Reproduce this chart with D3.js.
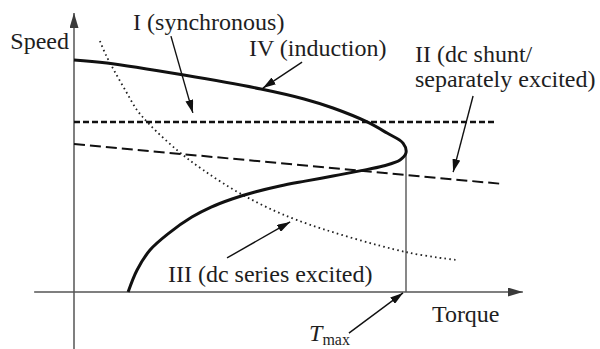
<!DOCTYPE html>
<html>
<head>
<meta charset="utf-8">
<script src="https://cdn.jsdelivr.net/npm/d3@7"></script>
<style>
  html, body { margin: 0; padding: 0; background: #fff; }
  svg { display: block; }
</style>
</head>
<body>
<svg id="chart" width="600" height="349"></svg>
<script>
// torque normalised to Tmax = 1, speed normalised to no-load induction speed = 1
const induction = [
  [0, 1.0], [0.099, 0.987], [0.331, 0.935], [0.563, 0.875], [0.693, 0.832],
  [0.78, 0.793], [0.883, 0.733], [0.943, 0.685], [0.991, 0.642], [1.0, 0.6],
  [0.982, 0.569], [0.931, 0.543], [0.861, 0.522], [0.78, 0.5], [0.696, 0.478],
  [0.62, 0.457], [0.545, 0.431], [0.476, 0.401], [0.413, 0.366], [0.355, 0.323],
  [0.286, 0.254], [0.229, 0.181], [0.19, 0.095], [0.163, 0]
];
const synchronous = [[0, 0.733], [1.274, 0.733]];
const dcShunt = [[0, 0.638], [1.289, 0.466]];
const dcSeries = [
  [0.078, 1.082], [0.096, 1.022], [0.12, 0.957], [0.154, 0.871], [0.19, 0.784],
  [0.229, 0.72], [0.31, 0.612], [0.389, 0.526], [0.509, 0.418], [0.672, 0.31],
  [1.0, 0.172], [1.154, 0.138]
];
const tMax = 1.0;
const tMaxSpeed = 0.6;

// annotation arrows: [from, to]
const arrows = [
  [[0.292, 1.103], [0.358, 0.772]],   // I
  [[0.687, 0.991], [0.569, 0.879]],   // IV
  [[1.202, 0.845], [1.142, 0.517]],   // II
  [[0.461, 0.147], [0.651, 0.302]],   // III
  [[0.828, -0.177], [0.991, -0.004]]  // Tmax
];

const labels = [
  { text: "Speed", t: -0.015, s: 1.047, anchor: "end" },
  { text: "I (synchronous)", t: 0.178, s: 1.129, anchor: "start" },
  { text: "IV (induction)", t: 0.527, s: 1.017, anchor: "start" },
  { text: "II (dc shunt/", t: 1.027, s: 0.991, anchor: "start" },
  { text: "separately excited)", t: 1.027, s: 0.884, anchor: "start" },
  { text: "III (dc series excited)", t: 0.283, s: 0.043, anchor: "start" },
  { text: "Torque", t: 1.078, s: -0.129, anchor: "start" }
];

const FONT = "'Liberation Serif', 'Times New Roman', serif";

const svg = d3.select("#chart");
const x = d3.scaleLinear().domain([0, 1]).range([74, 406]);
const y = d3.scaleLinear().domain([0, 1]).range([292, 60]);

const defs = svg.append("defs");
function marker(id, len, wid, color) {
  defs.append("marker")
    .attr("id", id)
    .attr("markerUnits", "userSpaceOnUse")
    .attr("viewBox", `0 ${-wid / 2} ${len} ${wid}`)
    .attr("refX", len).attr("refY", 0)
    .attr("markerWidth", len).attr("markerHeight", wid)
    .attr("orient", "auto")
    .append("path")
    .attr("d", `M0,${-wid / 2}L${len},0L0,${wid / 2}Z`)
    .attr("fill", color);
}
marker("axisHead", 15, 9, "#3a3a3a");
marker("noteHead", 13, 8, "#111");

// axes
svg.append("line")
  .attr("x1", x(-0.12)).attr("y1", y(0))
  .attr("x2", x(1.352)).attr("y2", y(0))
  .attr("stroke", "#555").attr("stroke-width", 1.5)
  .attr("marker-end", "url(#axisHead)");
svg.append("line")
  .attr("x1", x(0)).attr("y1", y(-0.27))
  .attr("x2", x(0)).attr("y2", y(1.203))
  .attr("stroke", "#555").attr("stroke-width", 1.5)
  .attr("marker-end", "url(#axisHead)");

// Tmax drop line
svg.append("line")
  .attr("x1", x(tMax)).attr("y1", y(0))
  .attr("x2", x(tMax)).attr("y2", y(tMaxSpeed))
  .attr("stroke", "#555").attr("stroke-width", 1.4);

const line = d3.line().x(d => x(d[0])).y(d => y(d[1]));
const smooth = d3.line().x(d => x(d[0])).y(d => y(d[1])).curve(d3.curveCatmullRom.alpha(0.5));

svg.append("path").datum(dcSeries)
  .attr("d", smooth).attr("fill", "none")
  .attr("stroke", "#222").attr("stroke-width", 1.8)
  .attr("stroke-dasharray", "1.6,3.2");

svg.append("path").datum(synchronous)
  .attr("d", line).attr("fill", "none")
  .attr("stroke", "#111").attr("stroke-width", 2.4)
  .attr("stroke-dasharray", "6,3");

svg.append("path").datum(dcShunt)
  .attr("d", line).attr("fill", "none")
  .attr("stroke", "#111").attr("stroke-width", 2)
  .attr("stroke-dasharray", "11,5");

svg.append("path").datum(induction)
  .attr("d", smooth).attr("fill", "none")
  .attr("stroke", "#111").attr("stroke-width", 3)
  .attr("stroke-linejoin", "round");

// annotation arrows
svg.selectAll(".note")
  .data(arrows)
  .enter()
  .append("line")
  .attr("class", "note")
  .attr("x1", d => x(d[0][0])).attr("y1", d => y(d[0][1]))
  .attr("x2", d => x(d[1][0])).attr("y2", d => y(d[1][1]))
  .attr("stroke", "#111").attr("stroke-width", 1.4)
  .attr("marker-end", "url(#noteHead)");

svg.selectAll(".lbl")
  .data(labels)
  .enter()
  .append("text")
  .attr("class", "lbl")
  .attr("x", d => x(d.t)).attr("y", d => y(d.s))
  .attr("text-anchor", d => d.anchor)
  .attr("font-family", FONT)
  .attr("font-size", 24)
  .attr("fill", "#1e1e1e")
  .text(d => d.text);

// T_max
const tm = svg.append("text")
  .attr("x", x(0.708)).attr("y", y(-0.213))
  .attr("font-family", FONT)
  .attr("font-size", 24)
  .attr("fill", "#1e1e1e");
tm.append("tspan").attr("font-style", "italic").text("T");
tm.append("tspan").attr("dy", 4).attr("font-size", 16).text("max");
</script>
</body>
</html>
